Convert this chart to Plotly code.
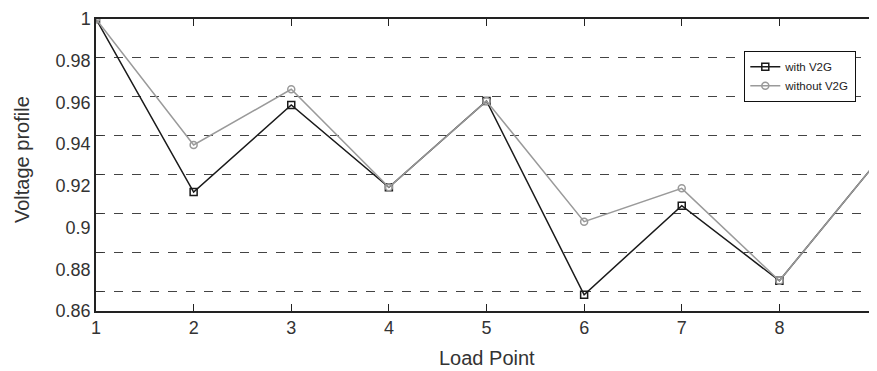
import plotly.graph_objects as go

load_points = [1, 2, 3, 4, 5, 6, 7, 8, 9]
with_v2g = [1.0, 0.917, 0.9588, 0.9193, 0.9607, 0.8678, 0.9105, 0.8745, 0.9316]
without_v2g = [1.0, 0.9396, 0.9663, 0.9193, 0.9607, 0.9028, 0.9188, 0.8745, 0.9316]
y_ticks = [0.86, 0.88, 0.9, 0.92, 0.94, 0.96, 0.98, 1.0]
y_tick_text = ["0.86", "0.88", "0.9", "0.92", "0.94", "0.96", "0.98", "1"]

# page body has an 8px margin: the figure is drawn at (8, 8) on screen
OFF = 8
W, H = 877, 371
L, T = 96 - OFF, 19 - OFF
PW, PH = 781, 292
R = W - L - PW
B = H - T - PH

def px_x(sx):
    return (sx - 96) / PW

def px_y(sy):
    return (311 - sy) / PH

fig = go.Figure()
# invisible trace to activate gridline axis
fig.add_trace(go.Scatter(x=[1], y=[0], yaxis="y2", mode="markers",
                         marker=dict(opacity=0), showlegend=False, hoverinfo="skip"))
fig.add_trace(go.Scatter(
    x=load_points, y=with_v2g, name="with V2G", mode="lines+markers",
    line=dict(color="#1a1a1a", width=1.5),
    marker=dict(symbol="square-open", size=7, color="#1a1a1a", line=dict(width=1.5)),
))
fig.add_trace(go.Scatter(
    x=load_points, y=without_v2g, name="without V2G", mode="lines+markers",
    line=dict(color="#9a9a9a", width=1.5),
    marker=dict(symbol="circle-open", size=7, color="#9a9a9a", line=dict(width=1.5)),
))

font_family = "Liberation Sans, Arial, sans-serif"
fig.update_layout(
    width=W, height=H,
    margin=dict(l=L, r=R, t=T, b=B),
    paper_bgcolor="white", plot_bgcolor="white",
    font=dict(family=font_family, color="#333333", size=18),
    showlegend=True,
    legend=dict(
        x=px_x(744), y=px_y(51),
        xanchor="left", yanchor="top",
        bgcolor="white", bordercolor="#111111", borderwidth=1.3,
        font=dict(size=11.5, color="#222222"),
        itemwidth=30, tracegroupgap=0,
    ),
    xaxis=dict(
        range=[1, 9], tickvals=load_points, ticktext=[str(v) for v in load_points],
        showgrid=False, zeroline=False,
        showline=True, linecolor="#222222", linewidth=1.5, mirror="ticks",
        ticks="inside", ticklen=7, tickcolor="#222222", tickwidth=1,
        automargin=False, tickfont=dict(size=18, color="#333333"),
    ),
    yaxis=dict(
        range=[0.86, 1.0], tickvals=y_ticks, ticktext=y_tick_text,
        showgrid=False, zeroline=False,
        showline=True, linecolor="#222222", linewidth=1.5,
        ticks="", automargin=False, tickfont=dict(size=18, color="#333333"),
    ),
    yaxis2=dict(
        overlaying="y", side="left", range=[0, 7.5],
        tick0=0.5, dtick=1, showticklabels=False,
        showgrid=True, griddash="dash", gridcolor="#444444", gridwidth=1,
        ticks="inside", ticklen=7, tickcolor="#333333", mirror="ticks",
        zeroline=False, showline=False, automargin=False,
    ),
    annotations=[
        dict(text="Voltage profile", textangle=-90, xref="paper", yref="paper",
             x=px_x(22), y=px_y(160), xanchor="center", yanchor="middle",
             showarrow=False, font=dict(size=20, color="#333333")),
        dict(text="Load Point", xref="paper", yref="paper",
             x=px_x(487), y=px_y(358), xanchor="center", yanchor="middle",
             showarrow=False, font=dict(size=20, color="#333333")),
    ],
)

fig.write_html("out.html")
